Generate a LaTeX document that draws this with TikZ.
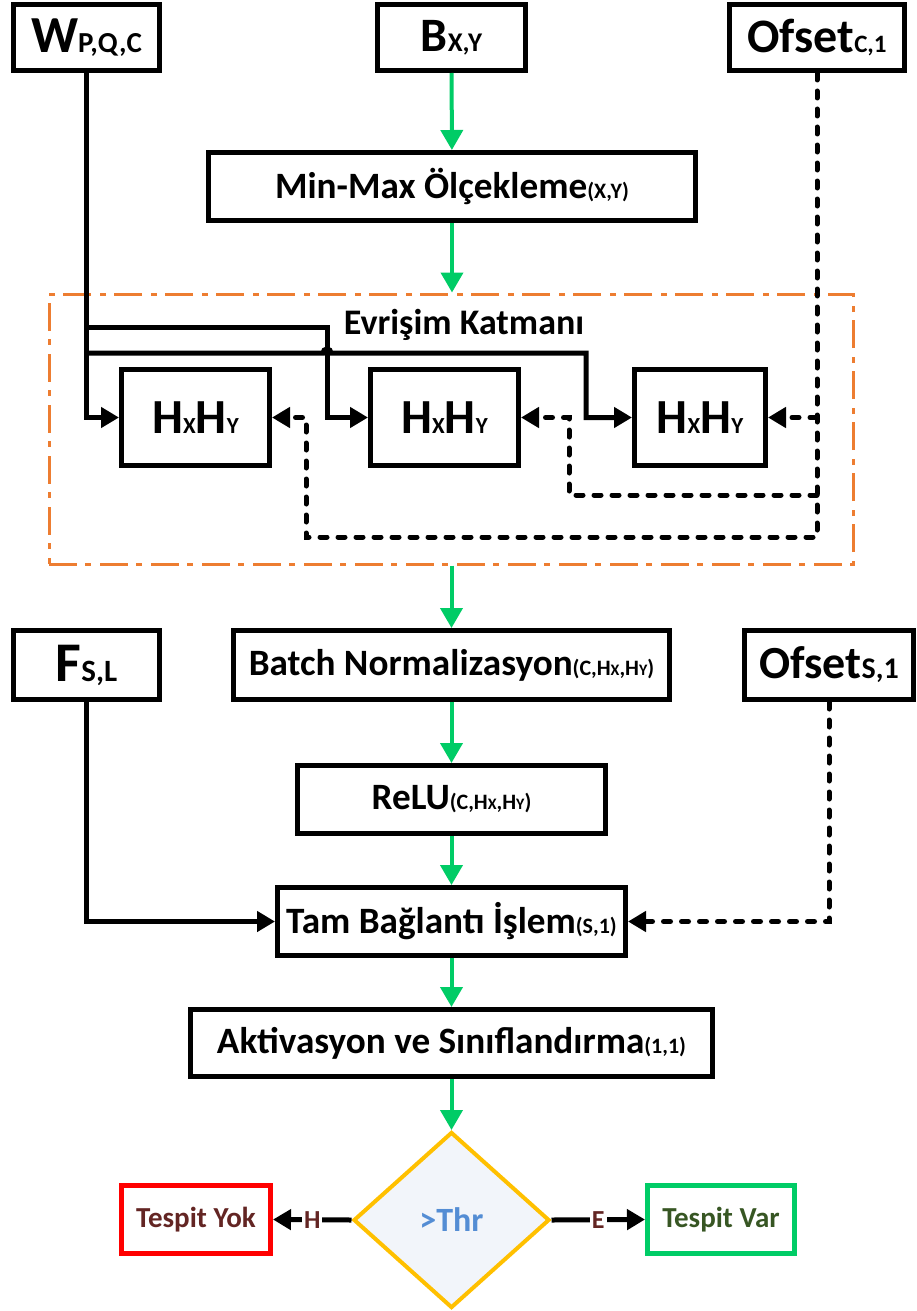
\documentclass[tikz,border=0pt]{standalone}
\usepackage{fontspec}
\setmainfont{Carlito}
\usetikzlibrary{arrows.meta,positioning,shapes.geometric}
\definecolor{flowgreen}{RGB}{0,204,102}
\definecolor{convorange}{RGB}{237,125,49}
\definecolor{decyellow}{RGB}{255,192,0}
\definecolor{decfill}{RGB}{242,245,250}
\definecolor{thrblue}{RGB}{84,141,212}
\definecolor{nobrown}{RGB}{99,37,35}
\definecolor{yesgreen}{RGB}{55,86,35}
\newcommand{\fsz}[1]{\fontsize{#1}{#1}\selectfont}

\begin{document}
\begin{tikzpicture}[
  x=0.5pt, y=-0.5pt,
  block/.style={rectangle, draw=black, line width=2.5pt, align=center, inner sep=0pt, minimum height=34pt, font=\bfseries\fsz{18.6}},
  inblock/.style={block, minimum height=33pt},
  hblock/.style={block, minimum height=48pt, font=\bfseries\fsz{24.5}},
  convbox/.style={rectangle, draw=convorange, line width=1.5pt, dash pattern=on 14pt off 4pt on 3pt off 4.5pt, minimum width=402pt, minimum height=135pt, inner sep=0pt},
  decision/.style={diamond, draw=decyellow, fill=decfill, line width=2pt, inner sep=0pt, minimum width=98pt, minimum height=88pt, font=\bfseries\fsz{17}, text=thrblue},
  outno/.style={block, draw=red, text=nobrown, font=\bfseries\fsz{14.5}},
  outyes/.style={block, draw=flowgreen, text=yesgreen, font=\bfseries\fsz{14.5}},
  lbl/.style={fill=white, inner sep=1pt, text=nobrown, font=\bfseries\fsz{13}},
  flow/.style={-{Triangle[length=10pt,width=11pt]}, draw=flowgreen, line width=2pt},
  line/.style={-{Triangle[length=9pt,width=10pt]}, line width=2.5pt},
  dline/.style={line, dash pattern=on 3.5pt off 5.5pt, line cap=round}
]
\useasboundingbox (0,0) rectangle (916,1311);

% inputs
\node[inblock, minimum width=73pt] (wpqc) at (86.5,37.5) {\fsz{26}W\fsz{14.5}P,Q,C};
\node[inblock, minimum width=74pt] (bxy) at (451.5,37.5) {\fsz{24}B\fsz{13.5}X,Y};
\node[inblock, minimum width=87.5pt] (ofc) at (817,37.5) {\fsz{24}Ofset\fsz{12.5}C,1};
\node[block, minimum width=243.5pt] (minmax) at (452,186.5) {Min-Max Ölçekleme{\fsz{11}(X,Y)}};

% convolution layer
\node[convbox] (conv) at (451,429) {};
\node[font=\bfseries\fsz{18}] (convlbl) at (464,325) {Evrişim Katmanı};
\node[hblock, minimum width=74pt] (h1) at (195.5,417.5) {H{\fsz{11.5}X}H{\fsz{11.5}Y}};
\node[hblock, minimum width=74pt] (h2) at (444.5,417.5) {H{\fsz{11.5}X}H{\fsz{11.5}Y}};
\node[hblock, minimum width=65.5pt] (h3) at (700,417.5) {H{\fsz{11.5}X}H{\fsz{11.5}Y}};

% lower part
\node[block, minimum width=73pt, minimum height=34.5pt] (fsl) at (86.5,665) {\fsz{28}F\fsz{15.5}S,L};
\node[block, minimum width=218pt, minimum height=34.5pt] (batch) at (451.5,665) {Batch Normalizasyon{\fsz{11}(C,H{\fsz{8}X},H{\fsz{8}Y})}};
\node[block, minimum width=84.5pt, minimum height=34.5pt] (ofs) at (829,665) {\fsz{23}Ofset\fsz{15}S,1};
\node[block, minimum width=154pt] (relu) at (451.5,799.5) {ReLU{\fsz{11}(C,H{\fsz{8}X},H{\fsz{8}Y})}};
\node[block, minimum width=174pt] (tam) at (451.5,921.5) {Tam Bağlantı İşlem{\fsz{11}(S,1)}};
\node[block, minimum width=261pt, minimum height=33.5pt] (akt) at (451.5,1043) {Aktivasyon ve Sınıflandırma{\fsz{11}(1,1)}};
\node[decision] (thr) at (451.5,1220) {>Thr};
\node[outno, minimum width=74.5pt] (yok) at (196,1219.5) {Tespit Yok};
\node[outyes, minimum width=73.5pt] (var) at (721,1219.5) {Tespit Var};

% main flow
\draw[flow] (bxy) -- (minmax);
\draw[flow] (minmax.south) -- (minmax.south |- conv.north);
\draw[flow] (conv.south -| batch.north) -- (batch.north);
\draw[flow] (batch) -- (relu);
\draw[flow] (relu) -- (tam);
\draw[flow] (tam) -- (akt);
\draw[flow] (akt) -- (thr);

% weights
\draw[line] (wpqc.south) |- (h1.west);
\draw[line] (wpqc.south |- 0,327) -- (327,327) |- (h2.west);
\draw[line] (wpqc.south |- 0,353) -- (323,353) arc[start angle=180, end angle=360, radius=4] -- (586,353) |- (h3.west);

% offsets
\draw[dline] (ofc.south) |- (306,537) |- (h1.east);
\draw[dline] (ofc.south |- 0,495) -- (569,495) |- (h2.east);
\draw[dline] (ofc.south |- h3.east) -- (h3.east);
\draw[line] (fsl.south) |- (tam.west);
\draw[dline] (ofs.south) |- (tam.east);

% decision
\draw[line] (thr.west) -- node[lbl] {H} (yok.east);
\draw[line] (thr.east) -- node[lbl] {E} (var.west);
\end{tikzpicture}
\end{document}
